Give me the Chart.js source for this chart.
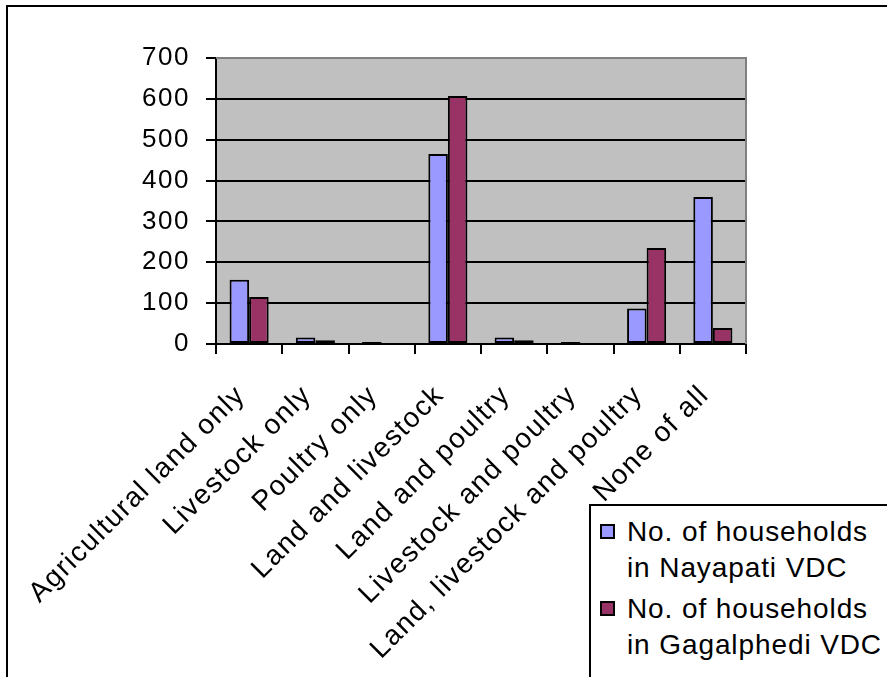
<!DOCTYPE html>
<html>
<head>
<meta charset="utf-8">
<script src="https://cdn.jsdelivr.net/npm/chart.js@4.4.1/dist/chart.umd.min.js"></script>
<style>
    html, body { margin: 0; padding: 0; background: #fff; }
    #wrap { position: relative; width: 887px; height: 677px; overflow: hidden; }
    #frame {
        position: absolute; left: 6px; top: 5px; width: 900px; height: 700px;
        border-left: 2px solid #000; border-top: 2px solid #000;
    }
    #chartCanvas { position: absolute; left: 0; top: 0; }
    #legendBox {
        position: absolute; left: 589px; top: 504px; width: 320px; height: 200px;
        border: 2px solid #000; background: #fff;
        font-family: "Liberation Sans", Arial, sans-serif; font-size: 28px; color: #000;
        letter-spacing: 0.9px;
    }
    .swatch { position: absolute; left: 9px; width: 11px; height: 11px; border: 2px solid #000; }
    .label { position: absolute; left: 36px; line-height: 36px; white-space: nowrap; }
</style>
</head>
<body>
<div id="wrap">
    <div id="frame"></div>
    <canvas id="chartCanvas" width="887" height="677"></canvas>
    <div id="legendBox"></div>
</div>
<script>
// 카테고리와 시리즈 값
const categories = ['Agricultural land only', 'Livestock only', 'Poultry only', 'Land and livestock',
    'Land and poultry', 'Livestock and poultry', 'Land, livestock and poultry', 'None of all'];
const nayapati = [157, 16, 5, 465, 16, 5, 87, 360];
const gagalphedi = [115, 9, 0, 607, 9, 0, 235, 39];
const seriesNames = [['No. of households', 'in Nayapati VDC'], ['No. of households', 'in Gagalphedi VDC']];
const yTicks = [0, 100, 200, 300, 400, 500, 600, 700];

const seriesColors = ['#9999FF', '#993366'];
const fontFamily = '"Liberation Sans", Arial, sans-serif';

// 회색 배경과 위/오른쪽 테두리
const plotAreaPlugin = {
    id: 'plotArea',
    beforeDraw(chart) {
        const { ctx, chartArea: a } = chart;
        ctx.letterSpacing = '1.5px';  // 축 라벨 글자 간격
        ctx.save();
        ctx.fillStyle = '#C0C0C0';
        ctx.fillRect(a.left, a.top, a.right - a.left, a.bottom - a.top);
        ctx.restore();
    },
    afterDatasetsDraw(chart) {
        const { ctx, chartArea: a } = chart;
        ctx.save();
        ctx.strokeStyle = '#808080';
        ctx.lineWidth = 2;
        ctx.beginPath();
        ctx.moveTo(a.left, a.top);
        ctx.lineTo(a.right, a.top);
        ctx.lineTo(a.right, a.bottom);
        ctx.stroke();
        ctx.restore();
    }
};

function makeDataset(i, values) {
    return {
        label: seriesNames[i].join(' '),
        data: values,
        backgroundColor: seriesColors[i],
        borderColor: '#000',
        borderWidth: 2,
        borderSkipped: false,
        categoryPercentage: 0.59,
        barPercentage: 1.0
    };
}

const ctx = document.getElementById('chartCanvas').getContext('2d');
new Chart(ctx, {
    type: 'bar',
    data: {
        labels: categories,
        datasets: [makeDataset(0, nayapati), makeDataset(1, gagalphedi)]
    },
    options: {
        responsive: false,
        animation: false,
        layout: { padding: { left: 0, top: 58, right: 141, bottom: 0 } },
        plugins: {
            legend: { display: false },
            tooltip: { enabled: false }
        },
        scales: {
            x: {
                grid: {
                    display: true,
                    drawOnChartArea: false,
                    drawTicks: true,
                    tickLength: 10,
                    color: '#000',
                    lineWidth: 2,
                    offset: true
                },
                border: { color: '#000', width: 2 },
                ticks: {
                    minRotation: 45,
                    maxRotation: 45,
                    autoSkip: false,
                    padding: 25,
                    labelOffset: -8,
                    color: '#000',
                    font: { family: fontFamily, size: 28 }
                },
                afterFit(scale) { scale.height = 677 - 344; }
            },
            y: {
                min: 0,
                max: 700,
                afterBuildTicks(scale) { scale.ticks = yTicks.map(v => ({ value: v })); },
                grid: {
                    color: c => c.tick && c.tick.value === 700 ? '#808080' : '#000',
                    tickColor: '#000',
                    lineWidth: 2,
                    tickLength: 10
                },
                border: { color: '#000', width: 2 },
                ticks: {
                    padding: 16,
                    color: '#000',
                    font: { family: fontFamily, size: 26 }
                },
                afterFit(scale) { scale.width = 216; }
            }
        }
    },
    plugins: [plotAreaPlugin]
});

// 범례 (두 줄 라벨)
const legendBox = document.getElementById('legendBox');
seriesNames.forEach((lines, i) => {
    const top = 8 + i * 77;
    const sw = document.createElement('div');
    sw.className = 'swatch';
    sw.style.top = (top + 10) + 'px';
    sw.style.background = seriesColors[i];
    legendBox.appendChild(sw);
    const lb = document.createElement('div');
    lb.className = 'label';
    lb.style.top = top + 'px';
    lb.innerHTML = lines.join('<br>');
    legendBox.appendChild(lb);
});
</script>
</body>
</html>
